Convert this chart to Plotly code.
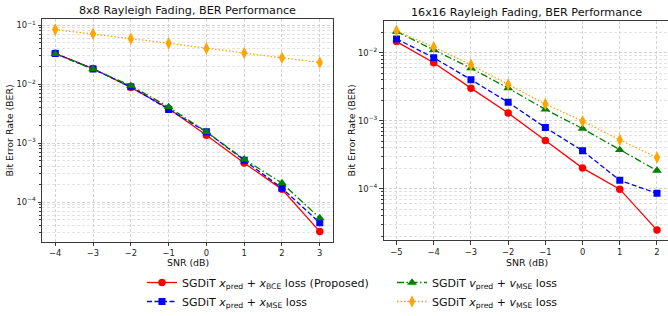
import numpy as np
import plotly.graph_objects as go

# ---------------- data ----------------
snr_8x8 = [-4, -3, -2, -1, 0, 1, 2, 3]
ber8_xpred_xbce = [0.0333, 0.0184, 0.0088, 0.00385, 0.00136, 0.00046, 0.000164, 0.0000315]
ber8_xpred_xmse = [0.0330, 0.0180, 0.0090, 0.00370, 0.00155, 0.00051, 0.000172, 0.0000445]
ber8_vpred_vmse = [0.0325, 0.0180, 0.0094, 0.00410, 0.00155, 0.00053, 0.000210, 0.0000535]
ber8_xpred_vmse = [0.0840, 0.0714, 0.0590, 0.0493, 0.0403, 0.0337, 0.0279, 0.0233]

snr_16x16 = [-5, -4, -3, -2, -1, 0, 1, 2]
ber16_xpred_xbce = [0.0145, 0.0071, 0.0030, 0.00129, 0.00051, 0.00020, 0.000098, 0.0000245]
ber16_xpred_xmse = [0.0159, 0.0084, 0.0040, 0.00186, 0.00079, 0.00036, 0.000132, 0.000085]
ber16_vpred_vmse = [0.0204, 0.0110, 0.0059, 0.00300, 0.00146, 0.00076, 0.00037, 0.000184]
ber16_xpred_vmse = [0.0209, 0.0121, 0.0066, 0.00340, 0.00175, 0.00098, 0.00052, 0.000286]

titles = ["8x8 Rayleigh Fading, BER Performance", "16x16 Rayleigh Fading, BER Performance"]
x_label = "SNR (dB)"
y_label = "Bit Error Rate (BER)"
names = [
    "SGDiT <i>x</i><sub>pred</sub> + <i>x</i><sub>BCE</sub> loss (Proposed)",
    "SGDiT <i>x</i><sub>pred</sub> + <i>x</i><sub>MSE</sub> loss",
    "SGDiT <i>v</i><sub>pred</sub> + <i>v</i><sub>MSE</sub> loss",
    "SGDiT <i>x</i><sub>pred</sub> + <i>v</i><sub>MSE</sub> loss",
]
y_tick_exps = [-4, -3, -2, -1]

# ---------------- styles ----------------
W, H = 668, 316
FONT = "DejaVu Sans"
styles = [
    dict(color="red", dash="solid", symbol="circle", size=7.5, rank=1),
    dict(color="blue", dash="5px,2.5px", symbol="square", size=7, rank=3),
    dict(color="green", dash="7px,2.5px,1.5px,2.5px", symbol="triangle-up", size=8.5, rank=2),
    dict(color="orange", dash="1.5px,2px", symbol="diamond-tall", size=9, rank=4),
]

fig = go.Figure()

panels = [
    (snr_8x8, [ber8_xpred_xbce, ber8_xpred_xmse, ber8_vpred_vmse, ber8_xpred_vmse], "x", "y"),
    (snr_16x16, [ber16_xpred_xbce, ber16_xpred_xmse, ber16_vpred_vmse, ber16_xpred_vmse], "x2", "y2"),
]

for p, (xs, series, xa, ya) in enumerate(panels):
    for i, ys in enumerate(series):
        st = styles[i]
        fig.add_trace(go.Scatter(
            x=xs, y=ys, xaxis=xa, yaxis=ya, mode="lines+markers",
            name=names[i], legendgroup=str(i), showlegend=(p == 0), legendrank=st["rank"],
            line=dict(color=st["color"], width=1.3, dash=st["dash"]),
            marker=dict(color=st["color"], symbol=st["symbol"], size=st["size"], line=dict(width=0)),
        ))

def px2fx(px):
    return px / W

def px2fy(py):
    return 1 - py / H

def log_range(series):
    vals = np.log10(np.concatenate([np.asarray(s) for s in series]))
    lo, hi = vals.min(), vals.max()
    m = 0.05 * (hi - lo)
    return [lo - m, hi + m]

minor_vals = [k * 10.0 ** e for e in range(-6, 0) for k in range(2, 10)]
major_vals = [10.0 ** e for e in y_tick_exps]
major_text = ["10<sup>\u2212%d</sup>" % (-e) for e in y_tick_exps]

axis_common = dict(
    showline=True, linecolor="#3a3a3a", linewidth=1,
    ticks="outside", ticklen=3.5, tickwidth=0.8, tickcolor="#3a3a3a",
    tickfont=dict(family=FONT, size=8.4, color="#222"),
    showgrid=True, gridcolor="#d3d3d3", gridwidth=0.7, griddash="3px,2px",
    zeroline=False, automargin=False,
)

L_x0, L_x1, L_y0, L_y1 = 42, 333, 20, 248
R_x0, R_x1, R_y0, R_y1 = 383.5, 668, 21.4, 246.3

rng_l = log_range(panels[0][1])
rng_r = log_range(panels[1][1])

def lin_range(xs):
    lo, hi = min(xs), max(xs)
    m = 0.05 * (hi - lo)
    return [lo - m, hi + m]

xr_l = lin_range(snr_8x8)
xr_r_full = lin_range(snr_16x16)
full_px = 670.0 - R_x0
unit_px = full_px / (xr_r_full[1] - xr_r_full[0])
xr_r = [xr_r_full[0], xr_r_full[0] + (R_x1 - R_x0) / unit_px]

minor_cfg = dict(tickvals=minor_vals, ticks="outside", ticklen=2, tickcolor="#3a3a3a",
                 showgrid=True, gridcolor="#e3e3e3", gridwidth=0.6, griddash="3px,2px")

fig.update_layout(
    xaxis=dict(domain=[px2fx(L_x0), px2fx(L_x1)], range=xr_l, anchor="y", mirror=True,
               tickvals=snr_8x8, ticktext=[str(v).replace("-", "\u2212") for v in snr_8x8], **axis_common),
    yaxis=dict(domain=[px2fy(L_y1), px2fy(L_y0)], type="log", range=rng_l, anchor="x", mirror=True,
               tickvals=major_vals, ticktext=major_text, minor=minor_cfg, **axis_common),
    xaxis2=dict(domain=[px2fx(R_x0), px2fx(R_x1)], range=xr_r, anchor="y2", mirror=True,
                tickvals=snr_16x16, ticktext=[str(v).replace("-", "\u2212") for v in snr_16x16], **axis_common),
    yaxis2=dict(domain=[px2fy(R_y1), px2fy(R_y0)], type="log", range=rng_r, anchor="x2", mirror=False,
                tickvals=major_vals, ticktext=major_text, minor=minor_cfg, **axis_common),
)

annotations = []
annotations.append(dict(text=titles[0], x=px2fx((L_x0 + L_x1) / 2), y=px2fy(11), xref="paper", yref="paper",
                        showarrow=False, xanchor="center", yanchor="middle",
                        font=dict(family=FONT, size=11.2, color="#111")))
annotations.append(dict(text=titles[1], x=px2fx(526.7), y=px2fy(13), xref="paper", yref="paper",
                        showarrow=False, xanchor="center", yanchor="middle",
                        font=dict(family=FONT, size=11.2, color="#111")))
for cx in [(L_x0 + L_x1) / 2, 526.7]:
    annotations.append(dict(text=x_label, x=px2fx(cx), y=px2fy(269), xref="paper", yref="paper",
                            showarrow=False, xanchor="center", yanchor="middle",
                            font=dict(family=FONT, size=9.4, color="#111")))
for cx, cy in [(10, (L_y0 + L_y1) / 2), (351, (R_y0 + R_y1) / 2)]:
    annotations.append(dict(text=y_label, x=px2fx(cx), y=px2fy(cy), xref="paper", yref="paper",
                            showarrow=False, xanchor="center", yanchor="middle", textangle=-90,
                            font=dict(family=FONT, size=9.4, color="#111")))

fig.update_layout(
    width=W, height=H,
    margin=dict(l=0, r=0, t=0, b=0),
    paper_bgcolor="white", plot_bgcolor="white",
    font=dict(family=FONT, color="#111"),
    annotations=annotations,
    showlegend=True,
    legend=dict(orientation="h", x=px2fx(142), y=px2fy(275), xanchor="left", yanchor="top",
                entrywidth=205, entrywidthmode="pixels", itemwidth=30,
                font=dict(family=FONT, size=11, color="#111"),
                bgcolor="rgba(0,0,0,0)", tracegroupgap=0, traceorder="normal"),
)

fig.write_html("out.html", config={"displayModeBar": False},
               post_script="document.body.style.margin='0px';document.body.style.overflow='hidden';")
